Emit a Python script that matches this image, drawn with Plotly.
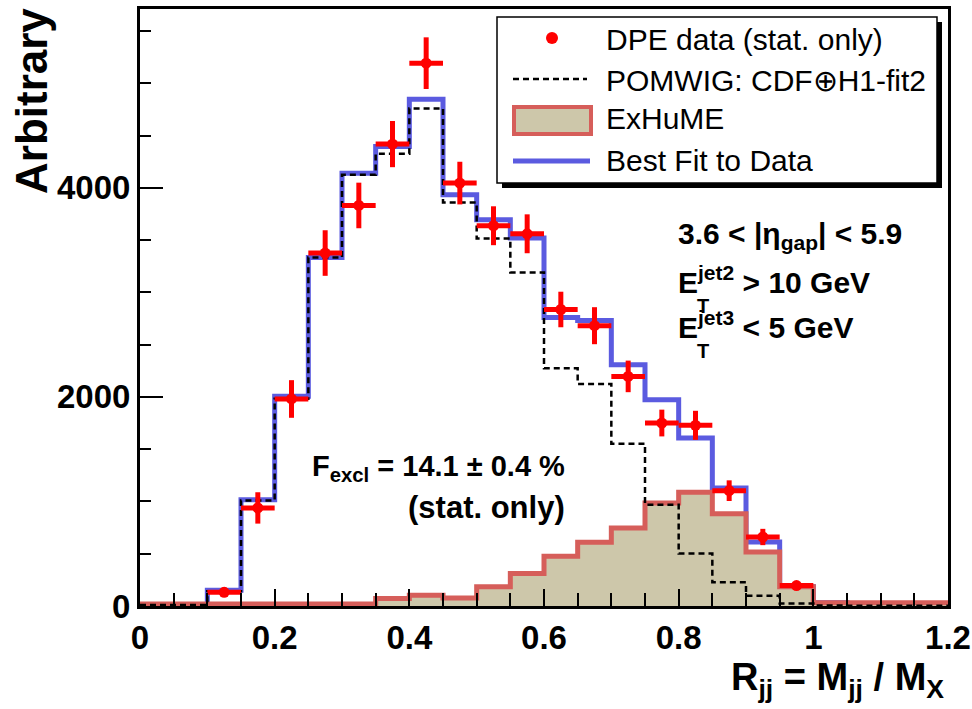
import plotly.graph_objects as go

# ---------------- data ----------------
bin_edges = [round(0.05 * i, 2) for i in range(25)]  # 0 .. 1.2

best_fit = [15, 15, 150, 1017, 2005, 3334, 4140, 4395, 4848, 3933, 3694, 3519,
            2760, 2730, 2308, 1973, 1607, 1129, 613, 183, 30, 25, 20, 20]
pomwig = [10, 10, 140, 1010, 1983, 3334, 4124, 4325, 4758, 3860, 3515, 3190,
          2273, 2123, 1553, 969, 501, 227, 99, 23, 5, 3, 2, 2]
exhume = [20, 20, 20, 20, 20, 20, 20, 71, 103, 77, 183, 310,
          476, 609, 746, 986, 1087, 883, 517, 183, 30, 30, 30, 30]

data_x = [0.125, 0.175, 0.225, 0.275, 0.325, 0.375, 0.425, 0.475, 0.525,
          0.575, 0.625, 0.675, 0.725, 0.775, 0.825, 0.875, 0.925, 0.975]
data_y = [131, 938, 1980, 3376, 3831, 4418, 5192, 4045, 3637,
          3560, 2836, 2681, 2196, 1750, 1728, 1103, 660, 195]
data_err = [45, 150, 180, 218, 218, 221, 247, 204, 186,
            186, 170, 177, 151, 128, 139, 99, 78, 33]
bin_half_width = 0.025

x_ticks = [0, 0.2, 0.4, 0.6, 0.8, 1.0, 1.2]
x_tick_text = ["0", "0.2", "0.4", "0.6", "0.8", "1", "1.2"]
y_ticks = [0, 2000, 4000]
y_tick_text = ["0", "2000", "4000"]

# ---------------- style ----------------
BLUE = "#5b5be0"
EXH_LINE = "#d65e5a"
EXH_FILL = "#cdc7aa"
RED = "#ff0000"
FONT = "Liberation Sans"

# plot area in page pixels (body margin removed by post_script)
L, R, T, B = 140, 948, 9, 606
W, H = 972, 709


def xp(px):
    return (px - L) / (R - L)


def yp(py):
    return (B - py) / (B - T)


def steps(vals):
    return bin_edges, list(vals) + [vals[-1]]


fig = go.Figure()

sx, sy = steps(best_fit)
fig.add_trace(go.Scatter(x=sx, y=sy, mode="lines", line=dict(color=BLUE, width=5, shape="hv"),
                         name="Best Fit to Data", showlegend=False))

sx, sy = steps(exhume)
fig.add_trace(go.Scatter(x=sx, y=sy, mode="lines", fill="tozeroy", fillcolor=EXH_FILL,
                         line=dict(color=EXH_LINE, width=5, shape="hv"),
                         name="ExHuME", showlegend=False))

sx, sy = steps(pomwig)
fig.add_trace(go.Scatter(x=sx, y=sy, mode="lines",
                         line=dict(color="black", width=2.5, dash="6px,4px", shape="hv"),
                         name="POMWIG", showlegend=False))

fig.add_trace(go.Scatter(x=data_x, y=data_y, mode="markers",
                         marker=dict(color=RED, size=11),
                         error_y=dict(type="data", array=data_err, color=RED, thickness=5, width=0),
                         error_x=dict(type="constant", value=bin_half_width, color=RED, thickness=5, width=0),
                         name="DPE data", showlegend=False))

shapes = []
annotations = []

# legend box with shadow
shapes.append(dict(type="rect", xref="paper", yref="paper", x0=xp(502), x1=xp(942), y0=yp(188), y1=yp(22),
                   fillcolor="black", line=dict(width=0), layer="above"))
shapes.append(dict(type="rect", xref="paper", yref="paper", x0=xp(497), x1=xp(937), y0=yp(183), y1=yp(17),
                   fillcolor="white", line=dict(color="black", width=1.5), layer="above"))
# legend symbols
shapes.append(dict(type="circle", xref="paper", yref="paper", x0=xp(546), x1=xp(558), y0=yp(44), y1=yp(32),
                   fillcolor=RED, line=dict(width=0), layer="above"))
shapes.append(dict(type="line", xref="paper", yref="paper", x0=xp(513), x1=xp(587), y0=yp(79), y1=yp(79),
                   line=dict(color="black", width=2.5, dash="6px,4px"), layer="above"))
shapes.append(dict(type="rect", xref="paper", yref="paper", x0=xp(514), x1=xp(591), y0=yp(134), y1=yp(107),
                   fillcolor=EXH_FILL, line=dict(color=EXH_LINE, width=4), layer="above"))
shapes.append(dict(type="line", xref="paper", yref="paper", x0=xp(513), x1=xp(590), y0=yp(161), y1=yp(161),
                   line=dict(color=BLUE, width=5), layer="above"))

legend_labels = ["DPE data (stat. only)", "POMWIG: CDF\u2295H1-fit2", "ExHuME", "Best Fit to Data"]
legend_y = [39, 80, 119, 161]
for lab, ly in zip(legend_labels, legend_y):
    annotations.append(dict(xref="paper", yref="paper", x=xp(604), y=yp(ly), text=lab, showarrow=False,
                            xanchor="left", yanchor="middle",
                            font=dict(family=FONT, size=30, color="black")))

bold = dict(family=FONT, color="black", weight="bold")

# selection text
annotations.append(dict(xref="paper", yref="paper", x=xp(676), y=yp(235),
                        text="3.6 < |\u03b7<sub>gap</sub>| < 5.9", showarrow=False,
                        xanchor="left", yanchor="middle", font=dict(size=30, **bold)))
annotations.append(dict(xref="paper", yref="paper", x=xp(676), y=yp(280),
                        text="E<sup>jet2</sup> > 10 GeV", showarrow=False,
                        xanchor="left", yanchor="middle", font=dict(size=30, **bold)))
annotations.append(dict(xref="paper", yref="paper", x=xp(695), y=yp(306),
                        text="T", showarrow=False,
                        xanchor="left", yanchor="middle", font=dict(size=20, **bold)))
annotations.append(dict(xref="paper", yref="paper", x=xp(676), y=yp(325),
                        text="E<sup>jet3</sup> < 5 GeV", showarrow=False,
                        xanchor="left", yanchor="middle", font=dict(size=30, **bold)))
annotations.append(dict(xref="paper", yref="paper", x=xp(695), y=yp(351),
                        text="T", showarrow=False,
                        xanchor="left", yanchor="middle", font=dict(size=20, **bold)))

annotations.append(dict(xref="paper", yref="paper", x=xp(310), y=yp(468),
                        text="F<sub>excl</sub> = 14.1 \u00b1 0.4 %", showarrow=False,
                        xanchor="left", yanchor="middle", font=dict(size=29, **bold)))
annotations.append(dict(xref="paper", yref="paper", x=xp(567), y=yp(507),
                        text="(stat. only)", showarrow=False,
                        xanchor="right", yanchor="middle", font=dict(size=31, **bold)))

# axis titles
annotations.append(dict(xref="paper", yref="paper", x=xp(32), y=yp(101), text="Arbitrary",
                        textangle=-90, showarrow=False, xanchor="center", yanchor="middle",
                        font=dict(size=44, **bold)))
annotations.append(dict(xref="paper", yref="paper", x=xp(946), y=yp(680),
                        text="R<sub>jj</sub> = M<sub>jj</sub> / M<sub>X</sub>", showarrow=False,
                        xanchor="right", yanchor="middle", font=dict(size=38, **bold)))

fig.update_layout(
    width=W, height=H,
    margin=dict(l=L, r=W - R, t=T, b=H - B, autoexpand=False),
    paper_bgcolor="white", plot_bgcolor="white",
    showlegend=False,
    shapes=shapes, annotations=annotations,
    font=dict(family=FONT, color="black"),
)

fig.update_xaxes(range=[0, 1.2], tickvals=x_ticks, ticktext=x_tick_text,
                 ticks="inside", ticklen=17, tickwidth=1.5, tickcolor="black",
                 minor=dict(dtick=0.05, tick0=0, ticks="inside", ticklen=13, tickwidth=1.5, tickcolor="black"),
                 showline=True, linewidth=3, linecolor="black", mirror=True,
                 showgrid=False, zeroline=False, ticklabeloverflow="allow",
                 tickfont=dict(size=33, **bold))
fig.update_yaxes(range=[0, 5710], tickvals=y_ticks, ticktext=y_tick_text,
                 ticks="inside", ticklen=23, tickwidth=1.5, tickcolor="black",
                 minor=dict(dtick=500, tick0=0, ticks="inside", ticklen=11, tickwidth=1.5, tickcolor="black"),
                 showline=True, linewidth=3, linecolor="black", mirror=True,
                 showgrid=False, zeroline=False,
                 tickfont=dict(size=33, **bold))

fig.write_html("out.html", config={"displayModeBar": False},
               post_script="document.body.style.margin='0';document.body.style.overflow='hidden';")
